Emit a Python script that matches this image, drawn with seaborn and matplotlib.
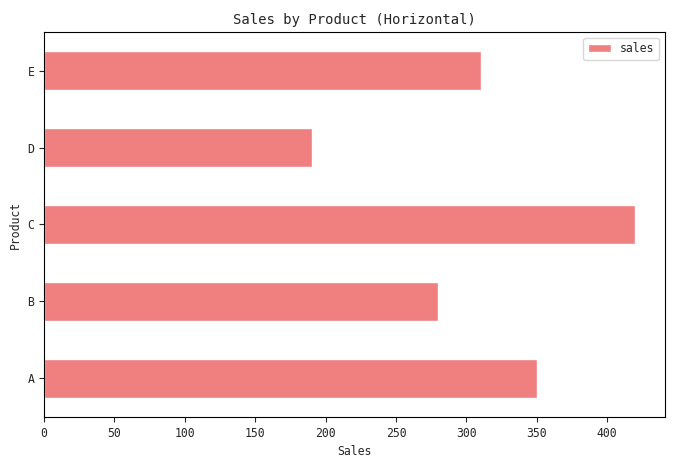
import matplotlib
matplotlib.use("Agg")
import matplotlib.pyplot as plt
import seaborn as sns
import pandas as pd

products = ["A", "B", "C", "D", "E"]
sales = [350, 280, 420, 190, 310]

sns.set_style("ticks")
plt.rcParams['font.family'] = ['DejaVu Sans Mono', 'DejaVu Sans']

df = pd.DataFrame({"product": products, "sales": sales})

fig = plt.figure(figsize=(6.74, 4.66), dpi=100)
ax = fig.add_axes([0.0653, 0.1052, 0.9213, 0.8261])

sns.barplot(data=df, x="sales", y="product", order=products[::-1],
            color="#F08080", saturation=1, width=0.5, label="sales", ax=ax)

ax.set_xlim(0, max(sales) * 1.05)
ax.set_ylim(4.5, -0.5)
ax.set_title("Sales by Product (Horizontal)", fontsize=10)
ax.set_xlabel("Sales", fontsize=8.3)
ax.set_ylabel("Product", fontsize=8.3)
ax.tick_params(labelsize=8.3)
for s in ax.spines.values():
    s.set_visible(True)
    s.set_color("black")
ax.legend(loc="upper right", fontsize=8.3)

fig.savefig("out.png", dpi=100)
